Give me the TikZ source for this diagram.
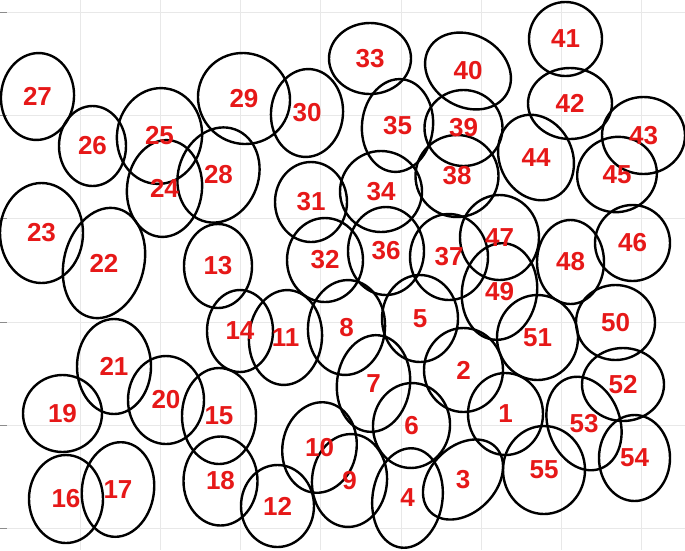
\documentclass[tikz,border=0pt]{standalone}
\usepackage{fontspec}
\newfontfamily\numfont{Liberation Sans}
\usetikzlibrary{shapes.geometric}
\definecolor{numred}{RGB}{230,24,24}
\definecolor{gridgray}{RGB}{232,232,232}
% number / centre x / centre y / x radius / y radius / turn
\def\blobs{1/505.5/414/37.5/41/0, 2/463.5/370/39.5/42/0, 3/463/479.5/46/33/45,
 4/407.5/498/35/50/-8, 5/420/318.5/38/43.5/0, 6/411.5/425.5/38.5/42.5/-5,
 7/373.5/383.5/36.5/48.5/-7, 8/346.5/327.5/38.5/47.5/-5, 9/349.5/480.5/37.5/46.5/-5,
 10/319.5/447.5/37/45.5/-10, 11/285.5/337.5/36.5/47.5/-5, 12/277.5/506/36.5/41/0,
 13/218/266/34/42/0, 14/240/331/33/41/0, 15/219/416/37/48/0,
 16/66/499/37/44/0, 17/118/489.5/36/47.5/-8, 18/220.5/481/37/44.5/0,
 19/62.5/413.5/39.5/38.5/0, 20/166/400/38/44/0, 21/114/366.5/37/47.5/0,
 22/104/263/40/56/-14.5, 23/41.5/233/41.5/50/0, 24/164.5/188.5/37.5/48.5/-6,
 25/159.5/136/42.5/48/-8, 26/92.5/146/33.5/40/0, 27/37.5/96.5/36.5/43.5/-5,
 28/218.5/175/40/48.5/-20, 29/244/98.5/46.5/45/-35, 30/307/113/36/44/-5,
 31/311/202/36/40/0, 32/325/260/38/42/0, 33/370/58.5/41/35.5/0,
 34/381/191.5/41/40.5/0, 35/397.5/125.5/35.5/46.5/-6, 36/386/251/38/44/0,
 37/449/257/39/43/0, 38/457/176/41.5/41/0, 39/463.5/128/39/38/0,
 40/468/71/45/36/-30, 41/565.5/39/36.5/37/0, 42/570/103.5/42/35.5/0,
 43/643.5/135.5/41.5/38.5/0, 44/536/157.5/36.5/44/25, 45/617/174.5/40/37.5/15,
 46/632.5/243/37.5/38/0, 47/499.5/237.5/39.5/42.5/0, 48/570.5/262/33.5/42/0,
 49/499.5/291.5/37.5/48.5/-8, 50/615.5/322.5/39.5/37.5/0, 51/537.5/337.5/40.5/42.5/0,
 52/623/384.5/41/36.5/0, 53/584/423.5/36/48/20, 54/634.5/458/35.5/43/0,
 55/544/470/41/44/0}
\begin{document}
\begin{tikzpicture}[x=1pt,y=-1pt,
  gridline/.style={draw=gridgray,line width=0.9pt},
  tickmark/.style={draw=black!45,line width=0.9pt},
  blob/.style={ellipse,draw=black,line width=2.4pt,inner sep=0pt,outer sep=0pt},
  num/.style={text=numred,font=\numfont\bfseries\fontsize{26}{26}\selectfont,inner sep=0pt}]
\useasboundingbox (0,0) rectangle (685,550);
% background grid
\foreach \gx in {1,...,8}
  \draw[gridline] (80.2*\gx,0) -- (80.2*\gx,550);
\foreach \gy in {0,...,5} {
  \draw[gridline] (0,12.3+103.3*\gy) -- (685,12.3+103.3*\gy);
  \draw[tickmark] (0,12.3+103.3*\gy) -- (7,12.3+103.3*\gy);
}
% ellipses first, numbers on top
\foreach \n/\x/\y/\a/\b/\t in \blobs
  \node[blob,minimum width={2*\a},minimum height={2*\b},rotate=\t] (e\n) at (\x,\y) {};
\foreach \n/\x/\y/\a/\b/\t in \blobs
  \node[num] (n\n) at (e\n.center) {\n};
\end{tikzpicture}
\end{document}
